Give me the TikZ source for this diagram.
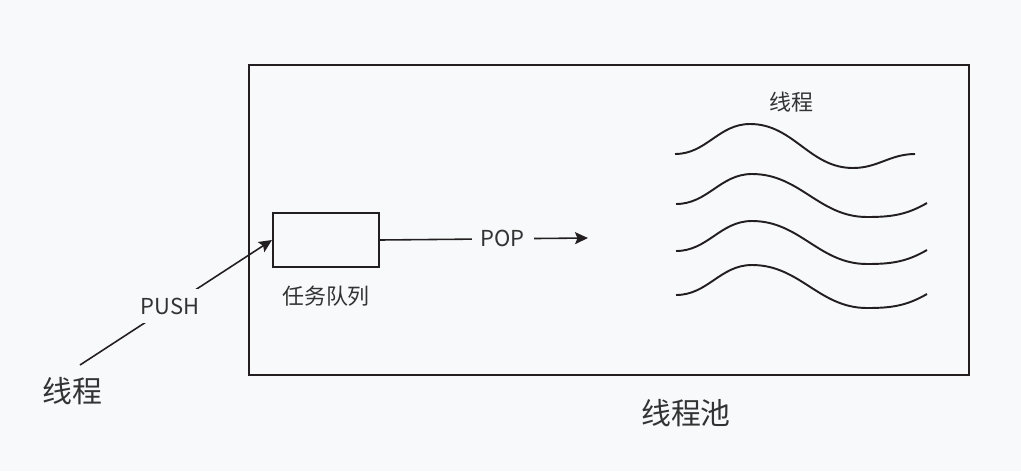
\documentclass[tikz,border=0pt]{standalone}
\usepackage{fontspec}
\setmainfont{Noto Sans CJK SC}
\usetikzlibrary{positioning,arrows.meta}
\definecolor{bgcol}{HTML}{F8F9FB}
\definecolor{inkcol}{HTML}{231F20}
\definecolor{txtcol}{HTML}{333333}

\begin{document}
\begin{tikzpicture}[
  x=0.02cm, y=-0.02cm,
  font=\fontsize{12.5}{14}\selectfont, text=txtcol,
  frame/.style={draw=inkcol, line width=1.2pt},
  qbox/.style={draw=inkcol, line width=1.2pt, minimum width=2.12cm, minimum height=1.08cm, inner sep=0pt},
  lbl/.style={fill=bgcol, inner sep=5pt},
  big/.style={font=\fontsize{17}{20}\selectfont},
  arr/.style={-{Stealth[length=2.6mm, width=2.4mm, inset=0.5mm]}, draw=inkcol, line width=0.9pt},
  wave/.style={draw=inkcol, line width=1.1pt}]
\fill[bgcol] (0,0) rectangle (1021,471);
\useasboundingbox (0,0) rectangle (1021,471);

% thread pool
\draw[frame] (249,65) rectangle (969,375);
\node[big] (pool) at (686,413) {线程池};

% task queue
\node[qbox] (queue) at (326,240) {};
\node (qname) at (326,296) {任务队列};

% pushing thread
\node[big] (thread) at (72,391) {线程};
\coordinate (pushstart) at (80,365);
\draw[arr] (pushstart) -- node[lbl, pos=0.47] (push) {PUSH} (queue.west);

% pop towards the workers
\coordinate (popend) at (588,238);
\draw[arr] (queue.east) -- node[lbl, pos=0.59] (pop) {POP} (popend);

% worker threads
\node (workers) at (791,102) {线程};
\draw[wave] (675,154) to[out=0,in=180] (750,124) to[out=0,in=180] (853,168) to[out=0,in=180] (915,154);
\foreach \y in {204,251,295}
  \draw[wave] (676,\y) to[out=0,in=180] (752,\y-30) to[out=0,in=180] (867,\y+13) to[out=0,in=210] (927,\y-1);
\end{tikzpicture}
\end{document}
